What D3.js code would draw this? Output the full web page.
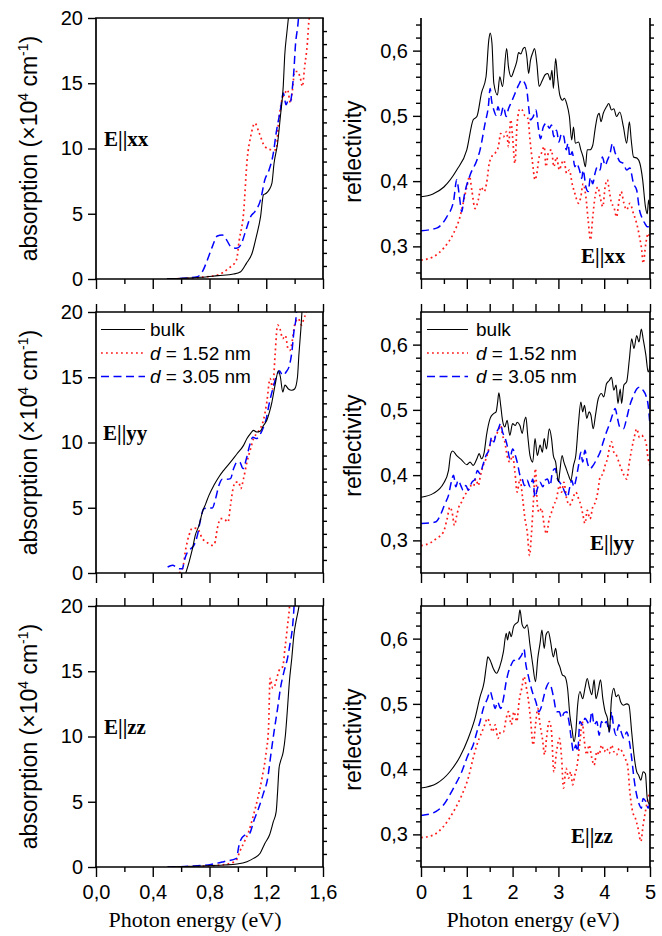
<!DOCTYPE html>
<html><head><meta charset="utf-8">
<script src="https://cdn.jsdelivr.net/npm/d3@7"></script>
<style>body{margin:0;background:#fff}svg{display:block}</style>
</head><body><svg id="c" width="662" height="936"></svg>
<script>
// ---------------- DATA ----------------
const seriesNames = ["bulk", "d = 1.52 nm", "d = 3.05 nm"];
const polarizations = ["xx", "yy", "zz"];
const absXTicksMajor = [0, 0.4, 0.8, 1.2, 1.6];
const absXTicksMinor = [0.2, 0.6, 1.0, 1.4];
const absYTicks = [0, 5, 10, 15, 20];
const rflXTicksMajor = [0, 1, 2, 3, 4, 5];
const rflXTicksMinor = [0.5, 1.5, 2.5, 3.5, 4.5];
const rflYTicks = [0.3, 0.4, 0.5, 0.6];

// absorption (x10^4 cm^-1) vs photon energy (eV)
const absXX_bulk = [[0.50,0.02],[0.74,0.13],[0.86,0.26],[0.97,0.38],[1.02,0.56],[1.06,1.2],[1.10,1.97],[1.13,3.25],[1.16,4.78],[1.18,6.45],[1.20,6.57],[1.22,6.83],[1.24,7.34],[1.255,8.87],[1.28,10.4],[1.30,12.5],[1.32,14.8],[1.33,17.1],[1.345,18.85],[1.36,20.4]];
const absXX_d152 = [[0.50,0.0],[0.74,0.13],[0.855,0.3],[0.935,0.82],[0.99,1.46],[1.01,3.0],[1.04,5.04],[1.065,9.1],[1.09,10.9],[1.12,11.94],[1.15,11.2],[1.19,10.15],[1.24,9.9],[1.27,9.9],[1.285,11.8],[1.31,13.7],[1.33,14.2],[1.35,14.5],[1.37,13.5],[1.385,14.5],[1.40,15.9],[1.42,15.9],[1.44,15.4],[1.455,14.75],[1.47,16.2],[1.49,18.1],[1.50,19.7],[1.51,20.4]];
const absXX_d305 = [[0.50,0.0],[0.645,0.08],[0.715,0.18],[0.75,0.56],[0.785,1.46],[0.82,2.48],[0.855,3.3],[0.89,3.38],[0.92,3.0],[0.95,2.48],[0.99,2.35],[1.02,2.6],[1.05,3.5],[1.09,4.78],[1.12,5.17],[1.16,6.06],[1.19,7.6],[1.22,8.36],[1.25,9.64],[1.27,11.2],[1.30,12.97],[1.32,14.25],[1.34,13.35],[1.355,13.7],[1.37,13.6],[1.385,14.75],[1.395,16.0],[1.405,17.8],[1.425,19.7],[1.43,20.4]];

const absYY_bulk = [[0.633,0.0],[0.656,0.84],[0.68,1.86],[0.70,2.9],[0.726,3.65],[0.75,4.67],[0.773,5.3],[0.796,5.95],[0.83,6.7],[0.866,7.36],[0.90,7.87],[0.948,8.5],[0.994,9.14],[1.04,9.78],[1.064,10.3],[1.09,10.7],[1.11,10.93],[1.134,10.8],[1.157,10.86],[1.18,11.3],[1.204,11.7],[1.223,12.34],[1.24,13.1],[1.262,14.4],[1.286,15.5],[1.30,15.0],[1.316,13.87],[1.332,14.4],[1.356,14.1],[1.38,14.0],[1.40,14.1],[1.42,15.0],[1.43,16.7],[1.444,18.7],[1.454,20.4]];
const absYY_d152 = [[0.586,0.0],[0.61,0.33],[0.633,1.86],[0.656,2.9],[0.68,3.45],[0.715,3.4],[0.75,2.63],[0.785,2.32],[0.82,2.12],[0.836,2.25],[0.855,3.4],[0.878,4.16],[0.90,4.16],[0.93,3.9],[0.948,5.19],[0.966,6.46],[0.983,6.97],[1.006,6.97],[1.02,6.46],[1.04,7.23],[1.064,8.5],[1.09,9.53],[1.11,10.3],[1.134,10.7],[1.157,11.06],[1.18,11.7],[1.204,13.1],[1.227,14.9],[1.246,14.1],[1.262,16.7],[1.28,19.0],[1.297,18.7],[1.316,17.96],[1.335,18.2],[1.353,17.2],[1.367,17.06],[1.386,17.96],[1.40,19.0],[1.425,19.5],[1.45,19.0],[1.465,19.5],[1.48,19.9],[1.49,20.4]];
const absYY_d305 = [[0.505,0.46],[0.54,0.59],[0.586,0.33],[0.61,0.33],[0.62,0.84],[0.645,1.6],[0.668,1.86],[0.69,2.12],[0.715,2.9],[0.738,4.16],[0.76,4.93],[0.79,4.98],[0.82,4.98],[0.843,5.7],[0.866,6.7],[0.89,7.18],[0.92,7.18],[0.948,7.23],[0.97,8.0],[0.994,8.5],[1.013,8.5],[1.036,8.0],[1.06,8.76],[1.083,9.78],[1.106,10.4],[1.13,10.3],[1.153,10.55],[1.176,11.06],[1.20,11.83],[1.223,13.1],[1.246,14.1],[1.27,15.0],[1.293,15.5],[1.316,15.15],[1.34,15.4],[1.363,15.9],[1.38,16.9],[1.395,18.5],[1.41,19.6],[1.415,20.4]];

const absZZ_bulk = [[0.505,0.0],[0.74,0.08],[0.90,0.15],[0.994,0.23],[1.064,0.41],[1.11,0.66],[1.157,1.05],[1.19,1.81],[1.223,2.45],[1.25,3.47],[1.27,4.24],[1.28,5.77],[1.29,7.56],[1.30,8.07],[1.32,8.84],[1.335,10.1],[1.35,12.2],[1.363,14.2],[1.38,16.0],[1.395,17.8],[1.414,19.05],[1.43,19.95],[1.435,20.4]];
const absZZ_d152 = [[0.505,0.0],[0.74,0.05],[0.855,0.13],[0.948,0.28],[0.99,0.54],[1.013,1.17],[1.04,1.81],[1.076,2.7],[1.11,3.98],[1.14,5.26],[1.17,6.8],[1.20,8.84],[1.216,10.6],[1.227,14.46],[1.246,13.7],[1.262,13.95],[1.28,14.7],[1.297,15.2],[1.316,15.35],[1.332,16.75],[1.35,18.5],[1.363,19.8],[1.367,20.4]];
const absZZ_d305 = [[0.505,0.0],[0.69,0.08],[0.81,0.2],[0.90,0.41],[0.99,0.66],[1.006,1.56],[1.02,2.07],[1.05,2.45],[1.083,2.58],[1.11,3.47],[1.146,4.5],[1.18,5.64],[1.21,6.8],[1.232,8.58],[1.255,10.37],[1.28,12.16],[1.30,13.7],[1.325,14.97],[1.35,16.0],[1.366,17.0],[1.386,18.5],[1.395,19.8],[1.398,20.4]];

// reflectivity vs photon energy (eV)
const rflXX_bulk = [[0,0.376],[0.25,0.380],[0.5,0.391],[0.78,0.417],[1.0,0.448],[1.14,0.494],[1.22,0.499],[1.32,0.535],[1.42,0.56],[1.48,0.616],[1.51,0.627],[1.55,0.611],[1.59,0.55],[1.67,0.532],[1.72,0.56],[1.78,0.545],[1.87,0.603],[1.91,0.575],[1.97,0.56],[2.03,0.57],[2.09,0.583],[2.13,0.597],[2.18,0.595],[2.23,0.603],[2.27,0.605],[2.31,0.591],[2.35,0.565],[2.39,0.585],[2.44,0.597],[2.48,0.603],[2.53,0.58],[2.58,0.545],[2.64,0.553],[2.71,0.563],[2.77,0.565],[2.82,0.555],[2.86,0.57],[2.89,0.542],[2.94,0.588],[2.98,0.56],[3.03,0.532],[3.09,0.524],[3.13,0.527],[3.18,0.519],[3.24,0.499],[3.29,0.463],[3.33,0.483],[3.37,0.458],[3.44,0.46],[3.49,0.448],[3.54,0.437],[3.59,0.422],[3.63,0.448],[3.69,0.448],[3.75,0.455],[3.80,0.479],[3.85,0.499],[3.89,0.504],[3.93,0.491],[3.98,0.504],[4.05,0.514],[4.10,0.519],[4.16,0.509],[4.21,0.511],[4.27,0.499],[4.34,0.506],[4.42,0.483],[4.49,0.458],[4.55,0.491],[4.59,0.463],[4.64,0.437],[4.72,0.435],[4.78,0.427],[4.84,0.402],[4.90,0.361],[4.94,0.35],[4.97,0.371],[5.0,0.356]];
const rflXX_d152 = [[0,0.279],[0.27,0.284],[0.49,0.297],[0.71,0.32],[0.85,0.345],[0.92,0.366],[1.0,0.391],[1.06,0.407],[1.11,0.386],[1.18,0.358],[1.25,0.371],[1.31,0.391],[1.38,0.384],[1.43,0.396],[1.49,0.427],[1.54,0.437],[1.62,0.443],[1.69,0.453],[1.74,0.473],[1.80,0.468],[1.87,0.476],[1.91,0.453],[1.96,0.494],[2.0,0.468],[2.05,0.427],[2.10,0.489],[2.16,0.511],[2.21,0.509],[2.26,0.501],[2.31,0.499],[2.34,0.494],[2.38,0.463],[2.43,0.432],[2.49,0.402],[2.53,0.412],[2.58,0.437],[2.63,0.443],[2.69,0.453],[2.73,0.422],[2.78,0.443],[2.85,0.448],[2.90,0.422],[2.96,0.437],[3.02,0.417],[3.07,0.427],[3.12,0.432],[3.18,0.412],[3.24,0.417],[3.30,0.396],[3.36,0.381],[3.44,0.366],[3.49,0.376],[3.54,0.396],[3.60,0.376],[3.65,0.34],[3.70,0.31],[3.75,0.345],[3.80,0.376],[3.86,0.391],[3.91,0.376],[3.97,0.361],[4.02,0.391],[4.07,0.402],[4.11,0.386],[4.16,0.366],[4.21,0.361],[4.27,0.345],[4.32,0.368],[4.37,0.384],[4.43,0.366],[4.49,0.356],[4.56,0.366],[4.64,0.35],[4.71,0.335],[4.77,0.315],[4.82,0.294],[4.85,0.274],[4.91,0.305],[4.96,0.32],[5.0,0.31]];
const rflXX_d305 = [[0,0.324],[0.34,0.328],[0.56,0.345],[0.71,0.369],[0.78,0.402],[0.84,0.376],[0.89,0.353],[0.94,0.376],[1.07,0.409],[1.22,0.432],[1.29,0.448],[1.40,0.489],[1.47,0.514],[1.51,0.542],[1.54,0.524],[1.59,0.509],[1.64,0.501],[1.68,0.514],[1.74,0.501],[1.80,0.514],[1.86,0.499],[1.91,0.511],[1.98,0.522],[2.05,0.534],[2.13,0.547],[2.20,0.555],[2.25,0.552],[2.31,0.54],[2.35,0.514],[2.39,0.494],[2.45,0.499],[2.51,0.509],[2.56,0.483],[2.61,0.465],[2.67,0.483],[2.74,0.489],[2.80,0.481],[2.85,0.486],[2.90,0.468],[2.96,0.478],[3.01,0.46],[3.07,0.473],[3.12,0.468],[3.17,0.448],[3.21,0.458],[3.25,0.437],[3.30,0.445],[3.36,0.422],[3.40,0.427],[3.46,0.417],[3.51,0.404],[3.54,0.417],[3.60,0.391],[3.65,0.384],[3.70,0.406],[3.75,0.396],[3.80,0.412],[3.85,0.422],[3.91,0.417],[3.96,0.437],[4.02,0.424],[4.07,0.432],[4.13,0.443],[4.18,0.458],[4.24,0.443],[4.29,0.437],[4.34,0.43],[4.42,0.427],[4.49,0.417],[4.56,0.42],[4.64,0.396],[4.71,0.386],[4.77,0.356],[4.83,0.343],[4.89,0.335],[4.94,0.33],[5.0,0.33]];

const rflYY_bulk = [[0,0.366],[0.27,0.372],[0.49,0.387],[0.60,0.407],[0.65,0.433],[0.69,0.437],[0.78,0.43],[0.89,0.423],[1.0,0.416],[1.07,0.42],[1.14,0.415],[1.22,0.425],[1.27,0.433],[1.32,0.425],[1.38,0.435],[1.43,0.461],[1.51,0.487],[1.58,0.494],[1.64,0.497],[1.67,0.51],[1.70,0.526],[1.74,0.507],[1.78,0.484],[1.83,0.474],[1.88,0.484],[1.94,0.461],[2.0,0.479],[2.06,0.476],[2.10,0.481],[2.16,0.476],[2.21,0.464],[2.26,0.484],[2.29,0.489],[2.33,0.461],[2.38,0.43],[2.44,0.42],[2.49,0.456],[2.54,0.43],[2.60,0.446],[2.65,0.435],[2.69,0.456],[2.74,0.44],[2.80,0.471],[2.85,0.456],[2.89,0.43],[2.94,0.42],[3.0,0.39],[3.03,0.405],[3.08,0.43],[3.12,0.42],[3.17,0.41],[3.22,0.40],[3.27,0.392],[3.33,0.415],[3.38,0.43],[3.44,0.481],[3.49,0.512],[3.53,0.497],[3.57,0.507],[3.62,0.487],[3.67,0.497],[3.71,0.492],[3.76,0.471],[3.81,0.492],[3.87,0.517],[3.94,0.525],[3.99,0.52],[4.05,0.54],[4.11,0.545],[4.16,0.55],[4.21,0.53],[4.26,0.538],[4.30,0.51],[4.35,0.532],[4.38,0.51],[4.43,0.538],[4.49,0.543],[4.55,0.578],[4.60,0.609],[4.65,0.594],[4.71,0.614],[4.76,0.604],[4.81,0.624],[4.85,0.609],[4.91,0.584],[4.96,0.558],[5.0,0.568]];
const rflYY_d152 = [[0,0.292],[0.20,0.296],[0.34,0.303],[0.49,0.313],[0.57,0.333],[0.63,0.351],[0.68,0.343],[0.73,0.323],[0.78,0.338],[0.84,0.354],[0.89,0.359],[0.95,0.369],[1.01,0.374],[1.07,0.384],[1.14,0.382],[1.20,0.394],[1.25,0.384],[1.30,0.40],[1.36,0.415],[1.42,0.425],[1.48,0.44],[1.54,0.453],[1.62,0.458],[1.69,0.469],[1.74,0.476],[1.78,0.461],[1.83,0.451],[1.88,0.43],[1.94,0.42],[2.0,0.43],[2.05,0.405],[2.10,0.374],[2.16,0.394],[2.22,0.364],[2.27,0.333],[2.32,0.313],[2.37,0.277],[2.41,0.308],[2.45,0.354],[2.50,0.41],[2.54,0.354],[2.58,0.343],[2.63,0.349],[2.69,0.323],[2.74,0.31],[2.80,0.333],[2.85,0.343],[2.90,0.354],[2.96,0.364],[3.02,0.384],[3.07,0.374],[3.12,0.389],[3.18,0.364],[3.24,0.354],[3.29,0.359],[3.34,0.369],[3.38,0.374],[3.44,0.364],[3.49,0.354],[3.53,0.341],[3.58,0.326],[3.63,0.346],[3.69,0.333],[3.75,0.351],[3.81,0.359],[3.86,0.374],[3.91,0.397],[3.97,0.402],[4.02,0.415],[4.07,0.425],[4.11,0.44],[4.16,0.451],[4.21,0.435],[4.27,0.43],[4.32,0.42],[4.37,0.41],[4.43,0.40],[4.49,0.394],[4.55,0.42],[4.60,0.44],[4.65,0.456],[4.71,0.471],[4.77,0.458],[4.82,0.461],[4.87,0.456],[4.91,0.451],[4.96,0.425],[5.0,0.415]];
const rflYY_d305 = [[0,0.326],[0.31,0.328],[0.45,0.343],[0.52,0.356],[0.60,0.369],[0.66,0.389],[0.71,0.40],[0.76,0.382],[0.81,0.392],[0.87,0.384],[0.92,0.377],[0.98,0.384],[1.03,0.377],[1.11,0.389],[1.18,0.394],[1.23,0.407],[1.29,0.402],[1.35,0.415],[1.42,0.43],[1.49,0.44],[1.54,0.458],[1.59,0.451],[1.64,0.464],[1.69,0.471],[1.74,0.479],[1.78,0.466],[1.83,0.458],[1.88,0.446],[1.94,0.425],[2.0,0.44],[2.06,0.43],[2.10,0.42],[2.16,0.40],[2.21,0.394],[2.26,0.384],[2.32,0.392],[2.38,0.382],[2.44,0.394],[2.49,0.366],[2.54,0.379],[2.60,0.389],[2.66,0.382],[2.71,0.392],[2.76,0.394],[2.82,0.384],[2.87,0.405],[2.93,0.41],[2.98,0.394],[3.03,0.389],[3.09,0.382],[3.14,0.374],[3.20,0.366],[3.24,0.379],[3.29,0.392],[3.34,0.382],[3.38,0.392],[3.44,0.415],[3.49,0.435],[3.53,0.42],[3.58,0.438],[3.63,0.42],[3.69,0.41],[3.76,0.415],[3.84,0.425],[3.91,0.435],[3.98,0.451],[4.05,0.466],[4.13,0.481],[4.18,0.492],[4.24,0.502],[4.29,0.487],[4.34,0.474],[4.42,0.471],[4.49,0.487],[4.56,0.507],[4.64,0.522],[4.71,0.532],[4.78,0.535],[4.85,0.53],[4.91,0.522],[4.96,0.507],[5.0,0.476]];

const rflZZ_bulk = [[0,0.371],[0.34,0.378],[0.63,0.396],[0.85,0.419],[1.03,0.447],[1.18,0.478],[1.29,0.511],[1.38,0.534],[1.43,0.56],[1.46,0.572],[1.51,0.567],[1.58,0.554],[1.65,0.547],[1.72,0.557],[1.80,0.58],[1.86,0.608],[1.89,0.598],[1.93,0.611],[1.97,0.603],[2.02,0.618],[2.07,0.623],[2.12,0.626],[2.16,0.644],[2.21,0.621],[2.26,0.616],[2.32,0.621],[2.38,0.59],[2.44,0.56],[2.50,0.534],[2.55,0.57],[2.60,0.593],[2.64,0.613],[2.69,0.585],[2.73,0.606],[2.78,0.611],[2.83,0.595],[2.89,0.572],[2.94,0.585],[2.98,0.567],[3.03,0.557],[3.09,0.544],[3.14,0.542],[3.20,0.524],[3.25,0.483],[3.30,0.46],[3.34,0.442],[3.38,0.457],[3.42,0.498],[3.47,0.519],[3.53,0.508],[3.58,0.524],[3.63,0.539],[3.68,0.524],[3.73,0.514],[3.78,0.537],[3.82,0.508],[3.87,0.521],[3.92,0.537],[3.97,0.508],[4.02,0.488],[4.07,0.478],[4.11,0.457],[4.16,0.508],[4.21,0.524],[4.26,0.511],[4.31,0.514],[4.36,0.503],[4.42,0.498],[4.49,0.50],[4.54,0.498],[4.60,0.457],[4.65,0.422],[4.71,0.396],[4.75,0.391],[4.80,0.383],[4.85,0.396],[4.90,0.393],[4.94,0.355],[4.99,0.345]];
const rflZZ_d152 = [[0,0.295],[0.27,0.299],[0.49,0.312],[0.71,0.335],[0.89,0.36],[1.03,0.386],[1.14,0.417],[1.22,0.437],[1.27,0.447],[1.33,0.457],[1.39,0.468],[1.45,0.478],[1.51,0.468],[1.56,0.457],[1.62,0.468],[1.68,0.447],[1.74,0.457],[1.80,0.457],[1.86,0.478],[1.91,0.488],[1.97,0.468],[2.03,0.488],[2.09,0.473],[2.15,0.508],[2.20,0.524],[2.25,0.542],[2.29,0.529],[2.34,0.508],[2.39,0.478],[2.45,0.437],[2.50,0.468],[2.55,0.493],[2.60,0.468],[2.65,0.447],[2.70,0.422],[2.74,0.447],[2.80,0.473],[2.85,0.457],[2.90,0.396],[2.96,0.427],[3.02,0.447],[3.07,0.417],[3.11,0.371],[3.17,0.401],[3.22,0.386],[3.27,0.396],[3.31,0.376],[3.36,0.391],[3.41,0.406],[3.47,0.442],[3.52,0.473],[3.56,0.447],[3.62,0.422],[3.67,0.437],[3.73,0.417],[3.78,0.406],[3.84,0.427],[3.89,0.422],[3.94,0.437],[4.0,0.427],[4.05,0.432],[4.11,0.424],[4.16,0.437],[4.21,0.427],[4.27,0.422],[4.33,0.432],[4.39,0.427],[4.45,0.417],[4.51,0.406],[4.56,0.365],[4.62,0.335],[4.68,0.325],[4.74,0.309],[4.80,0.289],[4.85,0.314],[4.90,0.335],[4.94,0.35],[4.99,0.365]];
const rflZZ_d305 = [[0,0.329],[0.27,0.333],[0.49,0.345],[0.71,0.371],[0.89,0.396],[1.03,0.422],[1.14,0.437],[1.22,0.457],[1.29,0.473],[1.36,0.493],[1.45,0.508],[1.51,0.519],[1.56,0.508],[1.62,0.493],[1.67,0.503],[1.74,0.493],[1.80,0.508],[1.86,0.534],[1.91,0.549],[1.97,0.56],[2.03,0.567],[2.09,0.565],[2.15,0.57],[2.20,0.575],[2.25,0.584],[2.29,0.56],[2.34,0.544],[2.39,0.529],[2.45,0.514],[2.51,0.503],[2.57,0.488],[2.63,0.496],[2.67,0.508],[2.73,0.524],[2.79,0.532],[2.85,0.524],[2.90,0.508],[2.96,0.488],[3.02,0.488],[3.07,0.478],[3.12,0.486],[3.18,0.488],[3.23,0.473],[3.28,0.447],[3.33,0.427],[3.38,0.437],[3.42,0.427],[3.47,0.473],[3.53,0.468],[3.58,0.478],[3.63,0.473],[3.68,0.468],[3.73,0.488],[3.78,0.468],[3.84,0.473],[3.89,0.452],[3.94,0.473],[3.99,0.468],[4.05,0.473],[4.11,0.457],[4.16,0.488],[4.20,0.468],[4.26,0.452],[4.32,0.468],[4.37,0.457],[4.43,0.447],[4.49,0.457],[4.55,0.442],[4.60,0.417],[4.65,0.386],[4.71,0.36],[4.77,0.345],[4.81,0.34],[4.85,0.355],[4.91,0.35],[4.96,0.34],[5.0,0.35]];

// ---------------- TABLES BUILT FROM THE ARRAYS ----------------
const absData = {xx:[absXX_bulk, absXX_d152, absXX_d305], yy:[absYY_bulk, absYY_d152, absYY_d305], zz:[absZZ_bulk, absZZ_d152, absZZ_d305]};
const rflData = {xx:[rflXX_bulk, rflXX_d152, rflXX_d305], yy:[rflYY_bulk, rflYY_d152, rflYY_d305], zz:[rflZZ_bulk, rflZZ_d152, rflZZ_d305]};

// ---------------- LAYOUT / STYLE ----------------
const W = 662, H = 936;
const rowTops = [18, 312, 606];
const PH = 261;
const leftPanel = {x0: 96, x1: 323};
const rightPanel = {x0: 421, x1: 650};
const styles = [
  {stroke: "#000000", width: 1.1, dash: null},
  {stroke: "#ff1a1a", width: 1.7, dash: "1.8,3.2"},
  {stroke: "#0000ff", width: 1.5, dash: "8,4.5"}
];
const SANS = "'Liberation Sans', Arial, sans-serif";
const SERIF = "'Liberation Serif', 'Times New Roman', serif";
const loc = d3.formatLocale({decimal: ",", thousands: ".", grouping: [3], currency: ["", ""]});
const f1 = loc.format(".1f");

const svg = d3.select("#c");
svg.append("rect").attr("width", W).attr("height", H).attr("fill", "#fff");
const defs = svg.append("defs");

function range(a, b, s) { const out = []; for (let v = a; v <= b + 1e-9; v += s) out.push(+v.toFixed(4)); return out; }

function styleAxis(g) {
  g.select(".domain").remove();
  g.selectAll(".tick line").attr("stroke", "#000").attr("stroke-width", 1.4);
  g.selectAll(".tick text").attr("font-family", SANS).attr("font-size", 20).attr("fill", "#000");
}

function drawPanel(opts) {
  const {x, y, top, bottom, left, right, id, data, xMajor, xMinor, yMajor, yMinor, yRightTicks, yFmt, xFmt, showXLabels, topTicks, topLine, leftMinorSize} = opts;
  const g = svg.append("g");
  // clip
  defs.append("clipPath").attr("id", id).append("rect")
    .attr("x", left).attr("y", top).attr("width", right - left).attr("height", bottom - top);
  // lines
  const line = d3.line().x(d => x(d[0])).y(d => y(d[1])).curve(d3.curveMonotoneX);
  const lg = g.append("g").attr("clip-path", `url(#${id})`);
  // draw red first then blue, black on top like reference
  [1, 2, 0].forEach(i => {
    lg.append("path").datum(data[i]).attr("d", line).attr("fill", "none")
      .attr("stroke", styles[i].stroke).attr("stroke-width", styles[i].width)
      .attr("stroke-dasharray", styles[i].dash).attr("stroke-linejoin", "round");
  });
  // bottom ticks
  g.append("g").attr("transform", `translate(0,${bottom})`)
    .call(d3.axisBottom(x).tickValues(xMinor).tickSize(5).tickFormat("")).call(styleAxis);
  const bx = g.append("g").attr("transform", `translate(0,${bottom})`)
    .call(d3.axisBottom(x).tickValues(xMajor).tickSize(10).tickPadding(8).tickFormat(showXLabels ? xFmt : ""));
  styleAxis(bx);
  // top ticks
  if (topTicks) {
    g.append("g").attr("transform", `translate(0,${top})`)
      .call(d3.axisTop(x).tickValues(xMajor.concat(xMinor)).tickSize(8).tickFormat("")).call(styleAxis);
  }
  // left ticks
  if (yMinor) {
    g.append("g").attr("transform", `translate(${left},0)`)
      .call(d3.axisLeft(y).tickValues(yMinor).tickSize(leftMinorSize).tickFormat("")).call(styleAxis);
  }
  g.append("g").attr("transform", `translate(${left},0)`)
    .call(d3.axisLeft(y).tickValues(yMajor).tickSize(8).tickPadding(5).tickFormat(yFmt)).call(styleAxis);
  // right ticks
  g.append("g").attr("transform", `translate(${right},0)`)
    .call(d3.axisRight(y).tickValues(yRightTicks).tickSize(4).tickFormat("")).call(styleAxis);
  // frame
  const fr = g.append("g").attr("stroke", "#000").attr("stroke-width", 1.7).attr("fill", "none");
  fr.append("line").attr("x1", left).attr("x2", left).attr("y1", top).attr("y2", bottom);
  fr.append("line").attr("x1", right).attr("x2", right).attr("y1", top).attr("y2", bottom);
  fr.append("line").attr("x1", left - 0.8).attr("x2", right + 0.8).attr("y1", bottom).attr("y2", bottom);
  if (topLine) fr.append("line").attr("x1", left - 0.8).attr("x2", right + 0.8).attr("y1", top).attr("y2", top);
  return g;
}

const absLabelX = [104, 103, 104];
const rflLabelPos = [[581, 263], [590, 550], [571, 843]];

polarizations.forEach((p, r) => {
  const top = rowTops[r], bottom = top + PH;
  // absorption panel
  const xA = d3.scaleLinear().domain([0, 1.6]).range([leftPanel.x0, leftPanel.x1]);
  const yA = d3.scaleLinear().domain([0, 20]).range([bottom, top]);
  drawPanel({x: xA, y: yA, top, bottom, left: leftPanel.x0, right: leftPanel.x1, id: "ca" + r,
    data: absData[p], xMajor: absXTicksMajor, xMinor: absXTicksMinor, yMajor: absYTicks, yMinor: null,
    yRightTicks: range(1, 19, 1), yFmt: d3.format("d"), xFmt: f1, showXLabels: r === 2,
    topTicks: r > 0, topLine: true, leftMinorSize: 4});
  // reflectivity panel
  const xR = d3.scaleLinear().domain([0, 5]).range([rightPanel.x0, rightPanel.x1]);
  const yR = d3.scaleLinear().domain([0.25, 0.65]).range([bottom, top]);
  drawPanel({x: xR, y: yR, top, bottom, left: rightPanel.x0, right: rightPanel.x1, id: "cr" + r,
    data: rflData[p], xMajor: rflXTicksMajor, xMinor: rflXTicksMinor, yMajor: rflYTicks, yMinor: range(0.26, 0.64, 0.02).filter(v => Math.abs(v * 10 - Math.round(v * 10)) > 1e-6),
    yRightTicks: range(0.26, 0.64, 0.02), yFmt: f1, xFmt: d3.format("d"), showXLabels: r === 2,
    topTicks: r > 0, topLine: r > 0, leftMinorSize: 5});

  // axis titles
  const ya = svg.append("text").attr("font-family", SANS).attr("font-size", 23).attr("text-anchor", "middle")
    .attr("transform", `translate(37,${(top + bottom) / 2}) rotate(-90)`);
  ya.append("tspan").text("absorption (×10");
  ya.append("tspan").attr("font-size", 14).attr("dy", -9).text("4");
  ya.append("tspan").attr("dy", 9).text(" cm");
  ya.append("tspan").attr("font-size", 14).attr("dy", -9).text("-1");
  ya.append("tspan").attr("dy", 9).text(")");
  svg.append("text").attr("font-family", SANS).attr("font-size", 23).attr("text-anchor", "middle")
    .attr("transform", `translate(361,${(top + bottom) / 2 + 3}) rotate(-90)`).text("reflectivity");

  // panel labels
  svg.append("text").attr("font-family", SERIF).attr("font-weight", "bold").attr("font-size", 21)
    .attr("x", absLabelX[r]).attr("y", top + 128).text("E||" + p);
  svg.append("text").attr("font-family", SERIF).attr("font-weight", "bold").attr("font-size", 21)
    .attr("x", rflLabelPos[r][0]).attr("y", rflLabelPos[r][1]).text("E||" + p);

  // legends in middle row
  if (r === 1) {
    [[101, 145, 150], [427, 468, 476]].forEach(([lx0, lx1, tx]) => {
      seriesNames.forEach((name, i) => {
        const ly = top + 17.5 + i * 23.5;
        svg.append("line").attr("x1", lx0).attr("x2", lx1).attr("y1", ly).attr("y2", ly)
          .attr("stroke", styles[i].stroke).attr("stroke-width", styles[i].width).attr("stroke-dasharray", styles[i].dash);
        const t = svg.append("text").attr("font-family", SANS).attr("font-size", 19).attr("x", tx).attr("y", ly + 6.5);
        if (i === 0) t.text(name);
        else { t.append("tspan").attr("font-style", "italic").text("d"); t.append("tspan").text(name.slice(1)); }
      });
    });
  }
});

// x axis titles
svg.append("text").attr("font-family", SERIF).attr("font-size", 22).attr("text-anchor", "middle")
  .attr("x", 195).attr("y", 927).text("Photon energy (eV)");
svg.append("text").attr("font-family", SERIF).attr("font-size", 22).attr("text-anchor", "middle")
  .attr("x", 533).attr("y", 927).text("Photon energy (eV)");
</script>
</body></html>
